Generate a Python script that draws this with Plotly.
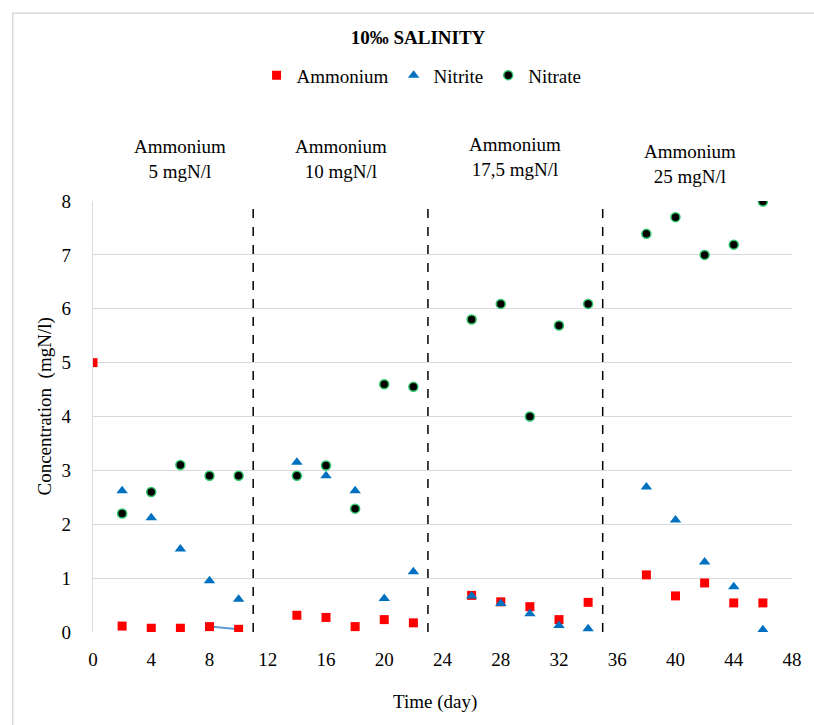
import plotly.graph_objects as go

# ---- data ----
days_amm = [0, 2, 4, 6, 8, 10, 14, 16, 18, 20, 22, 26, 28, 30, 32, 34, 38, 40, 42, 44, 46]
ammonium = [5.0, 0.11, 0.07, 0.07, 0.10, 0.05, 0.31, 0.27, 0.10, 0.23, 0.17,
            0.68, 0.56, 0.47, 0.23, 0.55, 1.06, 0.67, 0.91, 0.54, 0.54]
days = [2, 4, 6, 8, 10, 14, 16, 18, 20, 22, 26, 28, 30, 32, 34, 38, 40, 42, 44, 46]
nitrite = [2.62, 2.12, 1.54, 0.95, 0.61, 3.15, 2.90, 2.62, 0.62, 1.12,
           0.67, 0.53, 0.34, 0.12, 0.06, 2.69, 2.08, 1.30, 0.84, 0.04]
nitrate = [2.20, 2.60, 3.10, 2.90, 2.90, 2.90, 3.09, 2.29, 4.60, 4.55,
           5.80, 6.09, 4.00, 5.69, 6.09, 7.39, 7.70, 7.00, 7.19, 7.99]
phase_bounds = [11, 23, 35]
phase_labels = ["Ammonium<br>5 mgN/l", "Ammonium<br>10 mgN/l",
                "Ammonium<br>17,5 mgN/l", "Ammonium<br>25 mgN/l"]
phase_label_x = [6, 17, 29, 41]
phase_label_ypx = [159, 159, 156.5, 163.5]
x_ticks = list(range(0, 49, 4))
y_ticks = list(range(0, 9))

FONT = "Liberation Serif, Times New Roman, serif"

# plot-area geometry (px)
W, H = 814, 725
L, R = 92.5, 802
T, B = 200.7, 631.7


def py(ypx):
    return (B - ypx) / (B - T)


def px(xpx):
    return (xpx - L) / (R - L)


fig = go.Figure()

# segment joining the last two ammonium points of the first phase
fig.add_trace(go.Scatter(x=days_amm[4:6], y=ammonium[4:6], mode="lines",
                         line=dict(color="#5B9BD5", width=2),
                         showlegend=False, hoverinfo="skip"))

fig.add_trace(go.Scatter(x=days_amm, y=ammonium, mode="markers", name="Ammonium",
                         marker=dict(symbol="square", size=9, color="#FF0000")))
fig.add_trace(go.Scatter(x=days, y=nitrite, mode="markers", name="Nitrite",
                         marker=dict(symbol="triangle-up", size=10, color="#0070C0")))
fig.add_trace(go.Scatter(x=days, y=nitrate, mode="markers", name="Nitrate",
                         marker=dict(symbol="circle", size=9, color="#000000",
                                     line=dict(color="#2DC46A", width=1.5))))

shapes = []
for b in phase_bounds:
    shapes.append(dict(type="line", xref="x", yref="y", x0=b, x1=b, y0=0, y1=8,
                       line=dict(color="#000000", width=1.5, dash="dash"), layer="above"))
# outer chart border
shapes.append(dict(type="rect", xref="paper", yref="paper",
                   x0=px(11), x1=px(830), y0=py(740), y1=py(13),
                   line=dict(color="#D9D9D9", width=1.5), layer="below"))

annotations = []
for lab, xv, yp in zip(phase_labels, phase_label_x, phase_label_ypx):
    annotations.append(dict(x=xv, xref="x", y=py(yp), yref="paper", text=lab,
                            showarrow=False, xanchor="center", yanchor="middle",
                            font=dict(family=FONT, size=19, color="#000000")))
annotations.append(dict(x=px(440), xref="paper", y=py(702), yref="paper",
                        text="Time (day)", showarrow=False, xanchor="center",
                        yanchor="middle", font=dict(family=FONT, size=19, color="#000000")))
annotations.append(dict(x=px(44), xref="paper", y=py(406), yref="paper",
                        text="Concentration  (mgN/l)", showarrow=False, textangle=-90,
                        xanchor="center", yanchor="middle",
                        font=dict(family=FONT, size=19, color="#000000")))

fig.update_layout(
    width=W, height=H, autosize=False,
    margin=dict(l=L, r=W - R, t=T, b=H - B, pad=0),
    paper_bgcolor="white", plot_bgcolor="white",
    font=dict(family=FONT, size=19, color="#000000"),
    title=dict(text="<b>10‰ SALINITY</b>", x=418 / W, xanchor="center",
               y=1 - 37 / H, yanchor="middle", yref="container",
               font=dict(family=FONT, size=19, color="#000000")),
    legend=dict(orientation="h", x=px(426), xanchor="center", y=py(75), yanchor="middle",
                font=dict(family=FONT, size=19, color="#000000"),
                bgcolor="rgba(0,0,0,0)", itemwidth=30, tracegroupgap=0),
    xaxis=dict(range=[0, 48], tickvals=x_ticks, ticktext=[str(v) for v in x_ticks],
               showgrid=False, zeroline=False, showline=False, ticks="",
               ticklabelstandoff=14, tickfont=dict(family=FONT, size=19)),
    yaxis=dict(range=[0, 8], tickvals=y_ticks, ticktext=[str(v) for v in y_ticks],
               showgrid=True, gridcolor="#D9D9D9", gridwidth=1.3,
               zeroline=False, showline=True, linecolor="#D9D9D9", linewidth=1.3,
               ticks="", ticklabelstandoff=17, tickfont=dict(family=FONT, size=19)),
    shapes=shapes, annotations=annotations, showlegend=True,
)

fig.write_html("out.html")
